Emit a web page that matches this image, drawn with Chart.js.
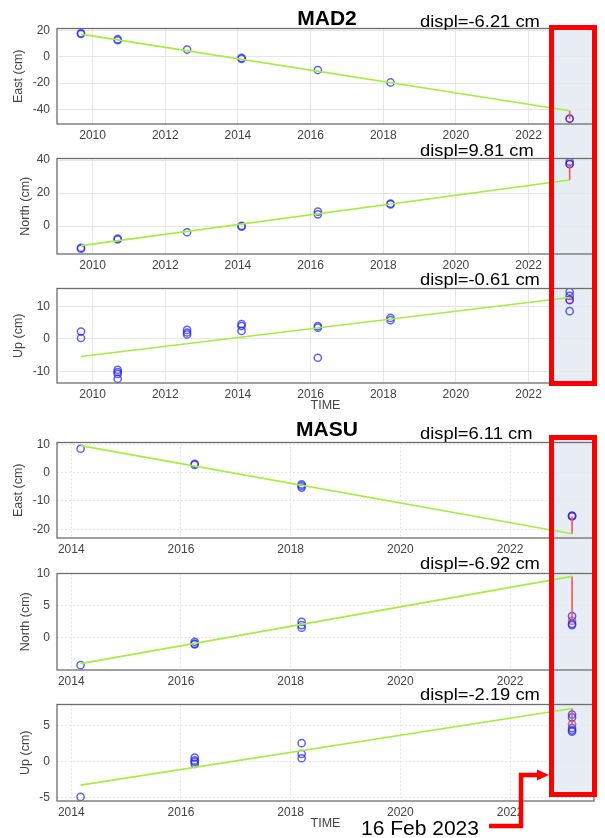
<!DOCTYPE html>
<html>
<head>
<meta charset="utf-8">
<script src="https://cdn.jsdelivr.net/npm/chart.js@4.4.1/dist/chart.umd.min.js"></script>
<style>
  body { margin: 0; background: #fff; font-family: 'Liberation Sans', Arial, sans-serif; }
  #wrap { position: relative; width: 605px; height: 838px; overflow: hidden; }
  canvas { position: absolute; left: 0; z-index: 1; }
  .shade { position: absolute; background: #e8edf5; z-index: 0; }
  .rbox { position: absolute; border: 5px solid #ff0000; box-sizing: border-box; z-index: 2; }
  .txt { position: absolute; z-index: 3; white-space: nowrap; color: #000; line-height: 1; }
</style>
</head>
<body>
<div id="wrap"></div>
<script>
// values (years as decimal, displacements in cm)
const eventYear = 2023.13; // 16 Feb 2023

const mad2YearTicks = [2010, 2012, 2014, 2016, 2018, 2020, 2022];
const masuYearTicks = [2014, 2016, 2018, 2020, 2022];

const mad2EastTicks = [-40, -20, 0, 20];
const mad2NorthTicks = [0, 20, 40];
const mad2UpTicks = [-10, 0, 10];
const masuEastTicks = [-20, -10, 0, 10];
const masuNorthTicks = [0, 5, 10];
const masuUpTicks = [-5, 0, 5];

// MAD2 observations
const mad2EastT = [2009.68, 2009.68, 2010.69, 2010.69, 2012.6, 2014.1, 2014.1, 2016.2, 2018.2, 2023.13];
const mad2EastV = [18.3, 17.6, 13.6, 12.8, 5.7, -0.7, -1.4, -10.0, -19.5, -47.1];
const mad2NorthT = [2009.68, 2009.68, 2010.69, 2010.69, 2012.6, 2014.1, 2014.1, 2016.2, 2016.2, 2018.2, 2018.2, 2023.13, 2023.13];
const mad2NorthV = [-13.2, -13.8, -7.6, -8.2, -3.8, 0.1, -0.4, 8.7, 7.1, 13.6, 13.1, 39.0, 37.6];
const mad2UpT = [2009.68, 2009.68, 2010.69, 2010.69, 2010.69, 2010.69, 2012.6, 2012.6, 2012.6,
                 2014.1, 2014.1, 2014.1, 2016.2, 2016.2, 2016.2, 2018.2, 2018.2,
                 2023.13, 2023.13, 2023.13, 2023.13];
const mad2UpV = [2.3, 0.3, -9.5, -10.2, -10.8, -12.3, 2.8, 2.0, 1.4,
                 4.6, 4.0, 2.5, 4.0, 3.5, -5.8, 6.5, 5.8,
                 14.6, 13.3, 12.0, 8.6];
const mad2FitT = [2009.68, eventYear];
const mad2EastFit = [17.5, -41.1];
const mad2NorthFit = [-11.9, 27.9];
const mad2UpFit = [-5.4, 12.8];
const mad2Displ = [-6.21, 9.81, -0.61];

// MASU observations
const masuEastT = [2014.17, 2016.25, 2016.25, 2018.2, 2018.2, 2018.2, 2023.13, 2023.13];
const masuEastV = [8.4, 3.1, 2.7, -4.2, -4.7, -5.3, -15.2, -15.4];
const masuNorthT = [2014.17, 2016.25, 2016.25, 2016.25, 2018.2, 2018.2, 2018.2, 2023.13, 2023.13, 2023.13];
const masuNorthV = [-4.24, -0.6, -0.9, -1.0, 2.5, 2.0, 1.6, 3.4, 2.2, 2.0];
const masuUpT = [2014.17, 2016.25, 2016.25, 2016.25, 2016.25, 2018.2, 2018.2, 2018.2,
                 2023.13, 2023.13, 2023.13, 2023.13, 2023.13];
const masuUpV = [-4.9, 0.6, 0.2, 0.0, -0.3, 2.6, 1.1, 0.5, 6.6, 6.2, 4.7, 4.4, 4.2];
const masuFitT = [2014.17, eventYear];
const masuEastFit = [9.5, -21.6];
const masuNorthFit = [-4.0, 9.6];
const masuUpFit = [-3.25, 7.45];
const masuDispl = [6.11, -6.92, -2.19];

// layout of the six panels (pixel boxes of each plot area)
const panels = [
  { top: 28, h: 96, xr: [2009.02, 2023.8], yr: [-51.3, 21.8], xt: mad2YearTicks, yt: mad2EastTicks, label: 'East (cm)', labelX: 19, time: false,
    T: mad2EastT, V: mad2EastV, fitT: mad2FitT, fit: mad2EastFit, displ: mad2Displ[0], textY: 22, dash: [] },
  { top: 158, h: 96, xr: [2009.02, 2023.8], yr: [-17, 41], xt: mad2YearTicks, yt: mad2NorthTicks, label: 'North (cm)', labelX: 26, time: false,
    T: mad2NorthT, V: mad2NorthV, fitT: mad2FitT, fit: mad2NorthFit, displ: mad2Displ[1], textY: 151, dash: [] },
  { top: 288, h: 95, xr: [2009.02, 2023.8], yr: [-13.6, 15.6], xt: mad2YearTicks, yt: mad2UpTicks, label: 'Up (cm)', labelX: 19, time: true,
    T: mad2UpT, V: mad2UpV, fitT: mad2FitT, fit: mad2UpFit, displ: mad2Displ[2], textY: 280, dash: [] },
  { top: 442, h: 96, xr: [2013.74, 2023.53], yr: [-23.1, 10.6], xt: masuYearTicks, yt: masuEastTicks, label: 'East (cm)', labelX: 19, time: false,
    T: masuEastT, V: masuEastV, fitT: masuFitT, fit: masuEastFit, displ: masuDispl[0], textY: 434, dash: [2, 2] },
  { top: 573, h: 97, xr: [2013.74, 2023.53], yr: [-5.0, 10.05], xt: masuYearTicks, yt: masuNorthTicks, label: 'North (cm)', labelX: 26, time: false,
    T: masuNorthT, V: masuNorthV, fitT: masuFitT, fit: masuNorthFit, displ: masuDispl[1], textY: 564, dash: [2, 2] },
  { top: 704, h: 97, xr: [2013.74, 2023.53], yr: [-5.47, 8.0], xt: masuYearTicks, yt: masuUpTicks, label: 'Up (cm)', labelX: 26, time: true,
    T: masuUpT, V: masuUpV, fitT: masuFitT, fit: masuUpFit, displ: masuDispl[2], textY: 695, dash: [2, 2] }
];

const wrap = document.getElementById('wrap');
const PAD_TOP = 5;
const AREA_LEFT = 57;
const AREA_RIGHT = 594;
const tickFont = { family: "'Liberation Sans', Arial, sans-serif", size: 12 };
const gridOpts = { color: '#e6e6e6', drawTicks: false };

const frame = {
  id: 'frame',
  afterDraw(chart) {
    const a = chart.chartArea, ctx = chart.ctx;
    ctx.save();
    ctx.strokeStyle = '#6e6e6e';
    ctx.lineWidth = 1.3;
    ctx.strokeRect(a.left, a.top, a.right - a.left, a.bottom - a.top);
    ctx.restore();
  }
};

function addDiv(cls, css, text) {
  const d = document.createElement('div');
  d.className = cls;
  Object.assign(d.style, css);
  if (text) d.textContent = text;
  wrap.appendChild(d);
  return d;
}

panels.forEach((p) => {
  const xAxisH = p.time ? 32 : 22;
  const cv = document.createElement('canvas');
  cv.width = 605;
  cv.height = PAD_TOP + p.h + xAxisH;
  cv.style.top = (p.top - PAD_TOP) + 'px';
  wrap.appendChild(cv);

  const obs = p.T.map((t, i) => ({ x: t, y: p.V[i] }));
  const fitPts = p.fitT.map((t, i) => ({ x: t, y: p.fit[i] }));
  const endT = p.fitT[1];
  const endV = p.fit[1];
  const postPt = { x: endT, y: endV + p.displ };

  new Chart(cv, {
    type: 'scatter',
    data: {
      datasets: [
        { type: 'line', data: fitPts, borderColor: '#a4ee3c', borderWidth: 1.6, pointRadius: 0, fill: false },
        { type: 'line', data: [{ x: endT, y: endV }, postPt], borderColor: '#ec5a5a', borderWidth: 1.6, pointRadius: 0, fill: false },
        { data: obs, pointRadius: 3.6, borderWidth: 1.5, borderColor: 'rgba(35,35,235,0.72)', backgroundColor: 'rgba(0,0,0,0)' },
        { data: [postPt], pointRadius: 3.6, borderWidth: 1.5, borderColor: 'rgba(225,40,60,0.7)', backgroundColor: 'rgba(0,0,0,0)' }
      ]
    },
    options: {
      responsive: false,
      animation: false,
      devicePixelRatio: 1,
      layout: { padding: { top: PAD_TOP, left: 0, right: 605 - AREA_RIGHT, bottom: 0 } },
      plugins: { legend: { display: false }, tooltip: { enabled: false } },
      scales: {
        x: {
          type: 'linear', min: p.xr[0], max: p.xr[1],
          afterBuildTicks: (ax) => { ax.ticks = p.xt.map((v) => ({ value: v })); },
          afterFit: (ax) => { ax.height = xAxisH; ax.paddingLeft = 0; ax.paddingRight = 0; },
          grid: gridOpts,
          border: { display: false, dash: p.dash },
          ticks: { color: '#444', font: tickFont, padding: 4, maxRotation: 0, callback: (v) => String(v) },
          title: { display: p.time, text: 'TIME', color: '#444', font: { family: tickFont.family, size: 12.5 }, padding: { top: 0, bottom: 2 } }
        },
        y: {
          type: 'linear', min: p.yr[0], max: p.yr[1],
          afterBuildTicks: (ax) => { ax.ticks = p.yt.map((v) => ({ value: v })); },
          afterFit: (ax) => { ax.width = AREA_LEFT; ax.paddingTop = 0; ax.paddingBottom = 0; },
          grid: gridOpts,
          border: { display: false, dash: p.dash },
          ticks: { color: '#444', font: tickFont, padding: 7, callback: (v) => String(v) },
          title: { display: true, text: p.label, color: '#444', font: { family: tickFont.family, size: 12.5 }, padding: { top: p.labelX - 7.5, bottom: 0 } }
        }
      }
    },
    plugins: [frame]
  });

  addDiv('txt', { left: '420px', top: (p.textY - 9) + 'px', fontSize: '17px',
    transform: 'scaleX(1.08)', transformOrigin: 'left center' },
    'displ=' + p.displ.toFixed(2) + ' cm');
});

// station titles
addDiv('txt', { left: '327px', top: '7px', transform: 'translateX(-50%)', fontSize: '21px', fontWeight: 'bold' }, 'MAD2');
addDiv('txt', { left: '327px', top: '418px', transform: 'translateX(-50%)', fontSize: '21px', fontWeight: 'bold' }, 'MASU');

// highlighted event window
addDiv('shade', { left: '551px', top: '27px', width: '44px', height: '357px' });
addDiv('shade', { left: '551px', top: '437px', width: '44px', height: '358px' });
addDiv('rbox', { left: '549px', top: '25px', width: '48px', height: '361px' });
addDiv('rbox', { left: '549px', top: '435px', width: '48px', height: '362px' });

addDiv('txt', { left: '361px', top: '817px', fontSize: '21px' }, '16 Feb 2023');

const svgNS = 'http://www.w3.org/2000/svg';
const svg = document.createElementNS(svgNS, 'svg');
svg.setAttribute('width', '605');
svg.setAttribute('height', '838');
svg.style.cssText = 'position:absolute;left:0;top:0;z-index:2;';
svg.innerHTML =
  '<polyline points="489,826 521,826 521,775 539,775" stroke="#ff0000" stroke-width="4.5" fill="none"/>' +
  '<polygon points="549,775 537,769.5 537,780.5" fill="#ff0000"/>';
wrap.appendChild(svg);
</script>
</body>
</html>
